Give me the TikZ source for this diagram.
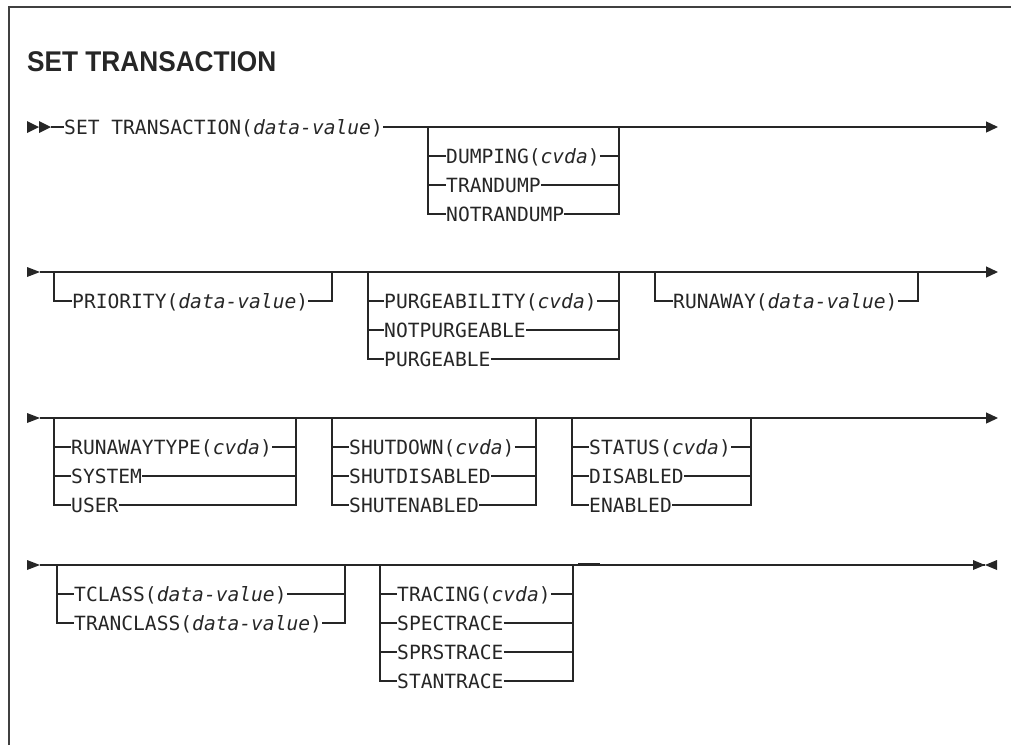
\documentclass[tikz,border=0pt]{standalone}
\usepackage{fontspec}
\setmainfont{Liberation Sans}
\newfontfamily\railfont{DejaVu Sans Mono}
\newfontfamily\titlefont[FakeStretch=0.92]{Liberation Sans Bold}
\usetikzlibrary{arrows.meta}
\tikzset{
  rail/.style={line width=1.3pt, draw=black!85},
  item/.style={anchor=west, inner sep=0pt, text height=14.3pt, text depth=0pt,
               font=\railfont\fontsize{19.6}{22}\selectfont, text=black!85},
  endarrow/.style={-{Triangle[length=12pt,width=11pt]}},
  frame/.style={line width=1.5pt, draw=black!75},
  head/.style={fill=black!85},
}
\begin{document}
\begin{tikzpicture}[x=1pt,y=-1pt]
\useasboundingbox (0,0) rectangle (1011,745);
\draw[frame] (9,745) -- (9,7) -- (1011,7);
\node[anchor=base west, inner sep=0pt, font=\titlefont\fontsize{28.5}{30}\selectfont, text=black!85] (title) at (27,71) {SET TRANSACTION};

% ---------- row 1 ----------
\fill[head] (27,121) -- (39,127) -- (27,133) -- cycle;
\fill[head] (39,121) -- (51,127) -- (39,133) -- cycle;
\coordinate (r1s) at (51,127);
\coordinate (r1e) at (998,127);
\node[item] (set) at (64,127) {SET TRANSACTION(\textit{data-value})};
\draw[rail] (r1s) -- (set.west);
\draw[rail,endarrow] (set.east) -- (r1e);
\coordinate (aL) at (428,127); \coordinate (aR) at (619,127);
\node[item] (dump) at (446,156) {DUMPING(\textit{cvda})};
\node[item] (trand) at (446,185) {TRANDUMP};
\node[item] (notr) at (446,214) {NOTRANDUMP};
\draw[rail] (aL) |- (notr.west);
\draw[rail] (aL |- dump.west) -- (dump.west);
\draw[rail] (aL |- trand.west) -- (trand.west);
\draw[rail] (notr.east) -| (aR);
\draw[rail] (dump.east) -- (aR |- dump.east);
\draw[rail] (trand.east) -- (aR |- trand.east);

% ---------- row 2 ----------
\fill[head] (27,267) -- (40,272) -- (27,277) -- cycle;
\coordinate (r2s) at (40,272);
\coordinate (r2e) at (998,272);
\draw[rail,endarrow] (r2s) -- (r2e);
\coordinate (bL) at (54,272); \coordinate (bR) at (332,272);
\node[item] (prio) at (72,301) {PRIORITY(\textit{data-value})};
\draw[rail] (bL) |- (prio.west);
\draw[rail] (prio.east) -| (bR);
\coordinate (cL) at (368,272); \coordinate (cR) at (619,272);
\node[item] (purg) at (384,301) {PURGEABILITY(\textit{cvda})};
\node[item] (notp) at (384,330) {NOTPURGEABLE};
\node[item] (purge) at (384,359) {PURGEABLE};
\draw[rail] (cL) |- (purge.west);
\draw[rail] (cL |- purg.west) -- (purg.west);
\draw[rail] (cL |- notp.west) -- (notp.west);
\draw[rail] (purge.east) -| (cR);
\draw[rail] (purg.east) -- (cR |- purg.east);
\draw[rail] (notp.east) -- (cR |- notp.east);
\coordinate (dL) at (655,272); \coordinate (dR) at (918,272);
\node[item] (runa) at (673,301) {RUNAWAY(\textit{data-value})};
\draw[rail] (dL) |- (runa.west);
\draw[rail] (runa.east) -| (dR);

% ---------- row 3 ----------
\fill[head] (27,413) -- (40,418) -- (27,423) -- cycle;
\coordinate (r3s) at (40,418);
\coordinate (r3e) at (998,418);
\draw[rail,endarrow] (r3s) -- (r3e);
\coordinate (eL) at (54,418); \coordinate (eR) at (296,418);
\node[item] (rtyp) at (71,447) {RUNAWAYTYPE(\textit{cvda})};
\node[item] (syst) at (71,476) {SYSTEM};
\node[item] (user) at (71,505) {USER};
\draw[rail] (eL) |- (user.west);
\draw[rail] (eL |- rtyp.west) -- (rtyp.west);
\draw[rail] (eL |- syst.west) -- (syst.west);
\draw[rail] (user.east) -| (eR);
\draw[rail] (rtyp.east) -- (eR |- rtyp.east);
\draw[rail] (syst.east) -- (eR |- syst.east);
\coordinate (fL) at (332,418); \coordinate (fR) at (536,418);
\node[item] (shut) at (349,447) {SHUTDOWN(\textit{cvda})};
\node[item] (shdis) at (349,476) {SHUTDISABLED};
\node[item] (shen) at (349,505) {SHUTENABLED};
\draw[rail] (fL) |- (shen.west);
\draw[rail] (fL |- shut.west) -- (shut.west);
\draw[rail] (fL |- shdis.west) -- (shdis.west);
\draw[rail] (shen.east) -| (fR);
\draw[rail] (shut.east) -- (fR |- shut.east);
\draw[rail] (shdis.east) -- (fR |- shdis.east);
\coordinate (gL) at (572,418); \coordinate (gR) at (751,418);
\node[item] (stat) at (589,447) {STATUS(\textit{cvda})};
\node[item] (dis) at (589,476) {DISABLED};
\node[item] (ena) at (589,505) {ENABLED};
\draw[rail] (gL) |- (ena.west);
\draw[rail] (gL |- stat.west) -- (stat.west);
\draw[rail] (gL |- dis.west) -- (dis.west);
\draw[rail] (ena.east) -| (gR);
\draw[rail] (stat.east) -- (gR |- stat.east);
\draw[rail] (dis.east) -- (gR |- dis.east);

% ---------- row 4 ----------
\fill[head] (27,560) -- (40,565) -- (27,570) -- cycle;
\coordinate (r4s) at (40,565);
\coordinate (r4e) at (985,565);
\draw[rail] (r4s) -- (r4e);
\fill[head] (973,560) -- (985,565) -- (973,570) -- cycle;
\fill[head] (997,560) -- (985,565) -- (997,570) -- cycle;
\coordinate (hL) at (57,565); \coordinate (hR) at (345,565);
\node[item] (tcl) at (74,594) {TCLASS(\textit{data-value})};
\node[item] (trcl) at (74,623) {TRANCLASS(\textit{data-value})};
\draw[rail] (hL) |- (trcl.west);
\draw[rail] (hL |- tcl.west) -- (tcl.west);
\draw[rail] (trcl.east) -| (hR);
\draw[rail] (tcl.east) -- (hR |- tcl.east);
\coordinate (iL) at (380,565); \coordinate (iR) at (573,565);
\node[item] (trac) at (397,594) {TRACING(\textit{cvda})};
\node[item] (spec) at (397,623) {SPECTRACE};
\node[item] (sprs) at (397,652) {SPRSTRACE};
\node[item] (stan) at (397,681) {STANTRACE};
\draw[rail] (iL) |- (stan.west);
\draw[rail] (iL |- trac.west) -- (trac.west);
\draw[rail] (iL |- spec.west) -- (spec.west);
\draw[rail] (iL |- sprs.west) -- (sprs.west);
\draw[rail] (stan.east) -| (iR);
\draw[rail] (trac.east) -- (iR |- trac.east);
\draw[rail] (spec.east) -- (iR |- spec.east);
\draw[rail] (sprs.east) -- (iR |- sprs.east);
\coordinate (m1) at (578,564); \coordinate (m2) at (600,564);
\draw[line width=2.2pt, black!85] (m1) -- (m2);
\end{tikzpicture}
\end{document}
